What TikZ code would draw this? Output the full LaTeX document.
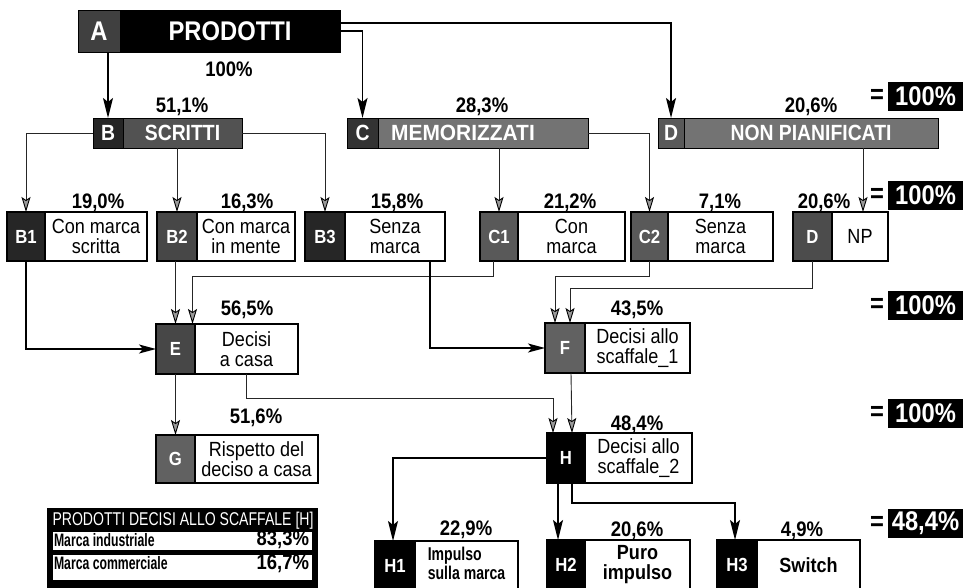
\documentclass[tikz,border=0pt]{standalone}
\usepackage{fontspec}
\setmainfont{Liberation Sans}[FakeStretch=0.88]
\newfontfamily\narrowfont{Liberation Sans}[FakeStretch=0.76]
\newfontfamily\narrowerfont{Liberation Sans}[FakeStretch=0.68]
\usetikzlibrary{arrows.meta,calc}

\tikzset{
  every node/.style={inner sep=0pt, outer sep=0pt},
  secbox/.style={draw=black, line width=1.2pt, fill=#1, text=white, anchor=north west,
    font=\bfseries\fontsize{19}{19}\selectfont},
  wbox/.style={draw=black, line width=1.2pt, fill=white, anchor=west, align=center,
    font=\fontsize{20.5}{20}\selectfont},
  hdrsec/.style={draw=black, line width=1pt, fill=#1, text=white, anchor=north west,
    font=\bfseries\fontsize{22}{22}\selectfont},
  hdrmain/.style={draw=black, line width=1pt, fill=#1, text=white, anchor=west,
    font=\bfseries\fontsize{22}{22}\selectfont},
  pct/.style={font=\bfseries\fontsize{21}{21}\selectfont},
  eqbox/.style={fill=black, text=white, font=\bfseries\fontsize{27}{27}\selectfont,
    minimum width=75pt, minimum height=29pt},
  eqsign/.style={font=\bfseries\fontsize{27}{27}\selectfont, anchor=east},
  bigarr/.style={line width=1.8pt, -{Stealth[length=20pt,width=10pt,inset=4pt]}},
  medarr/.style={line width=1.3pt, -{Stealth[length=17pt,width=9pt,inset=4pt]}},
  smallarr/.style={line width=0.9pt, draw=black!85,
    -{Stealth[length=15pt,width=9pt,inset=3pt,color=black,fill=black!40]}},
}

% name, x, y, secwidth, totalwidth, height, fill, label, text
\newcommand{\pairbox}[9]{%
  \node[secbox=#7, minimum width=#4pt, minimum height=#6pt] (#1l) at (#2,#3) {#8};
  \node[wbox, minimum width={(#5-#4)*1pt}, minimum height=#6pt] (#1) at (#1l.east) {#9};
}

\begin{document}
\begin{tikzpicture}[x=1pt,y=-1pt]
\useasboundingbox (0,0) rectangle (966,587);

% ---------- header row ----------
\node[hdrsec=black!75, minimum width=42pt, minimum height=42pt,
      font=\bfseries\fontsize{27}{27}\selectfont] (Al) at (78,10) {A};
\node[hdrmain=black, minimum width=220pt, minimum height=42pt,
      font=\bfseries\fontsize{27}{27}\selectfont] (A) at (Al.east) {PRODOTTI};

\node[hdrsec=black!85, minimum width=30pt, minimum height=30pt] (Bl) at (93,118) {B};
\node[hdrmain=black!68, minimum width=119pt, minimum height=30pt] (B) at (Bl.east) {SCRITTI};

\node[hdrsec=black!80, minimum width=31pt, minimum height=30pt] (Cl) at (347,118) {C};
\node[hdrmain=black!55, minimum width=210pt, minimum height=30pt] (C) at (Cl.east)
  {\scalebox{1.08}[1]{MEMORIZZATI}\hspace*{40pt}};

\node[hdrsec=black!65, minimum width=26pt, minimum height=30pt] (Dl) at (658,118) {D};
\node[hdrmain=black!55, minimum width=254pt, minimum height=30pt] (D) at (Dl.east) {NON PIANIFICATI};

% ---------- second row ----------
\pairbox{B1}{7}{212}{38}{140}{49}{black!85}{B1}{Con marca\\scritta}
\pairbox{B2}{157}{212}{40}{138}{49}{black!72}{B2}{Con marca\\in mente}
\pairbox{B3}{305}{212}{40}{140}{49}{black!85}{B3}{Senza\\marca}
\pairbox{C1}{480}{212}{38}{145}{49}{black!65}{C1}{Con\\marca}
\pairbox{C2}{631}{212}{37}{142}{49}{black!65}{C2}{Senza\\marca}
\pairbox{Dp}{793}{212}{39}{95}{49}{black!70}{D}{NP}

% ---------- third / fourth rows ----------
\pairbox{E}{156}{324}{39}{142}{50}{black!72}{E}{Decisi\\a casa}
\pairbox{F}{545}{323}{40}{145}{50}{black!62}{F}{Decisi allo\\scaffale\_1}
\pairbox{G}{156}{435}{39}{162}{48}{black!62}{G}{Rispetto del\\deciso a casa}
\pairbox{H}{547}{433}{38}{145}{50}{black}{H}{Decisi allo\\scaffale\_2}

% ---------- bottom row ----------
\pairbox{Ha}{375}{541}{40}{143}{50}{black}{H1}{\narrowfont\bfseries\fontsize{18.5}{19}\selectfont\begin{tabular}{@{}l@{}}Impulso\\sulla marca\end{tabular}}
\pairbox{Hb}{547}{540}{38}{143}{50}{black}{H2}{\bfseries Puro\\\bfseries impulso}
\pairbox{Hc}{717}{540}{40}{143}{50}{black}{H3}{\bfseries Switch}

% ---------- percentages ----------
\node[pct] (pA) at (229,69) {100\%};
\node[pct] (pB) at (182,107) {51,1\%};
\node[pct] (pC) at (482,107) {28,3\%};
\node[pct] (pD) at (811,107) {20,6\%};
\node[pct] (pB1) at (98,203) {19,0\%};
\node[pct] (pB2) at (247,203) {16,3\%};
\node[pct] (pB3) at (397,203) {15,8\%};
\node[pct] (pC1) at (570,203) {21,2\%};
\node[pct] (pC2) at (720,203) {7,1\%};
\node[pct] (pDp) at (824,203) {20,6\%};
\node[pct] (pE) at (247,310) {56,5\%};
\node[pct] (pF) at (637,310) {43,5\%};
\node[pct] (pG) at (256,418) {51,6\%};
\node[pct] (pH) at (637,425) {48,4\%};
\node[pct] (pHa) at (466,530) {22,9\%};
\node[pct] (pHb) at (637,531) {20,6\%};
\node[pct] (pHc) at (802,531) {4,9\%};

% ---------- = 100% boxes ----------
\node[eqbox] (q1) at (925.5,96) {100\%};
\node[eqsign] (e1) at ([xshift=-4pt]q1.west) {=};
\node[eqbox] (q2) at (925.5,195) {100\%};
\node[eqsign] (e2) at ([xshift=-4pt]q2.west) {=};
\node[eqbox] (q3) at (925.5,305) {100\%};
\node[eqsign] (e3) at ([xshift=-4pt]q3.west) {=};
\node[eqbox] (q4) at (925.5,413) {100\%};
\node[eqsign] (e4) at ([xshift=-4pt]q4.west) {=};
\node[eqbox] (q5) at (925.5,523) {48,4\%};
\node[eqsign] (e5) at ([xshift=-4pt]q5.west) {=};

% ---------- table ----------
\node[fill=black, minimum width=271pt, minimum height=82pt, anchor=north west] (tab) at (47,508) {};
\node[text=white, font=\narrowfont\fontsize{18.5}{18}\selectfont] (tabt) at (183,521) {PRODOTTI DECISI ALLO SCAFFALE [H]};
\node[fill=white, minimum width=259pt, minimum height=18pt, anchor=north west] (row1) at (53,532) {};
\node[fill=white, minimum width=259pt, minimum height=25pt, anchor=north west] (row2) at (53,555) {};
\node[anchor=west, font=\narrowerfont\bfseries\fontsize{18}{18}\selectfont] (r1a) at ([xshift=1pt,yshift=1pt]row1.west) {Marca industriale};
\node[anchor=east, font=\bfseries\fontsize{21}{21}\selectfont] (r1b) at ([xshift=-3pt,yshift=1pt]row1.east) {83,3\%};
\node[anchor=west, font=\narrowerfont\bfseries\fontsize{18}{18}\selectfont] (r2a) at ([xshift=1pt,yshift=4pt]row2.west) {Marca commerciale};
\node[anchor=east, font=\bfseries\fontsize{21}{21}\selectfont] (r2b) at ([xshift=-3pt,yshift=4pt]row2.east) {16,7\%};

% ---------- connectors ----------
\draw[bigarr] (A.south -| Bl.north) -- (Bl.north);
\draw[bigarr] (A.east) -| (Cl.north);
\draw[bigarr] ([yshift=8pt]A.east) -| (Dl.north);

\draw[smallarr] (Bl.west) -| (B1l.north);
\draw[smallarr] (B.south -| B2l.north) -- (B2l.north);
\draw[smallarr] (B.east) -| (B3l.north);

\draw[smallarr] (C.south -| C1l.north) -- (C1l.north);
\draw[smallarr] (C.east) -| (C2l.north);
\draw[smallarr] ([xshift=3pt]D.south -| Dp.north) -- ([xshift=3pt]Dp.north);

\draw[medarr] (B1l.south) |- (El.west);
\draw[smallarr] (El.north |- B2l.south) -- (El.north);
\draw[smallarr] ([xshift=-6pt]C1l.south) -- ++(0,15) -| ([xshift=17pt]El.north);

\draw[medarr] ([xshift=35pt]B3.south) |- (Fl.west);
\draw[smallarr] (C2l.south) -- ++(0,15) -| ([xshift=-10pt]Fl.north);
\draw[smallarr] (Dpl.south) -- ++(0,27) -| ([xshift=5pt]Fl.north);

\draw[smallarr] (El.south) -- (Gl.north);
\draw[smallarr] (E.south) -- ++(0,24) -| ([xshift=-13pt]Hl.north);
\draw[smallarr] ([xshift=6pt]Fl.south) -- ([xshift=6pt]Hl.north);

\draw[bigarr] (Hl.west) -| ([xshift=-2pt]Hal.north);
\draw[bigarr] ([xshift=-8pt]Hl.south) -- ([xshift=-8pt]Hbl.north);
\draw[bigarr] ([xshift=6pt]Hl.south) -- ++(0,20) -| ([xshift=-2pt]Hcl.north);

\end{tikzpicture}
\end{document}
